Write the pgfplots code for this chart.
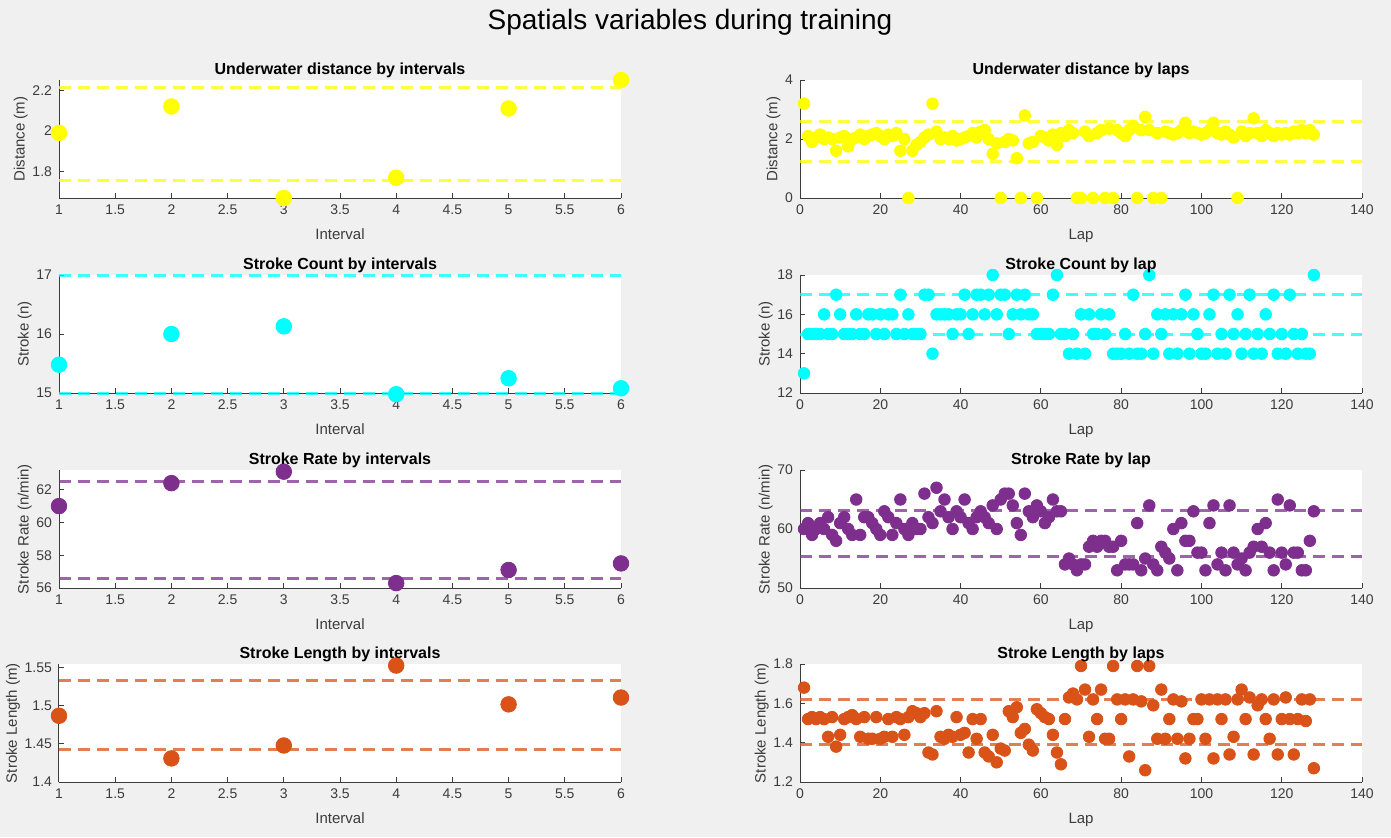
\documentclass[border=0pt]{standalone}
\usepackage{fontspec}
\setmainfont{Liberation Sans}
\usepackage{pgfplots}
\pgfplotsset{compat=1.18}
\definecolor{figbg}{RGB}{240,240,240}
\definecolor{axc}{RGB}{60,60,60}
\definecolor{myyellow}{RGB}{255,255,0}
\definecolor{mycyan}{RGB}{0,255,255}
\definecolor{mypurple}{RGB}{126,47,142}
\definecolor{myorange}{RGB}{217,83,25}
\pgfplotsset{
  base/.style={scale only axis, width=281pt, height=59pt, anchor=north west,
    axis background/.style={fill=white},
    axis x line*=bottom, axis y line*=left,
    axis line style={draw=axc, line width=0.5pt},
    every tick/.style={axc, line width=0.5pt}, major tick length=2.5pt, tick align=inside,
    tick label style={font=\fontsize{7}{8}\selectfont, text=axc},
    label style={font=\fontsize{7.5}{9}\selectfont, text=axc},
    ylabel shift=-4.5pt,
    title style={font=\bfseries\fontsize{8}{9}\selectfont, text=black, yshift=-8.5pt},
    /pgf/number format/assume math mode=true, clip=false},
  lft/.style={base, xmin=1, xmax=6, xtick={1,1.5,2,2.5,3,3.5,4,4.5,5,5.5,6}, xlabel={Interval}},
  rgt/.style={base, xmin=0, xmax=140, xtick={0,20,40,60,80,100,120,140}, xlabel={Lap}},
  dl/.style={line width=1.5pt, dash pattern=on 6pt off 3.5pt, opacity=0.75},
  ml/.style={only marks, mark=*, mark size=3.9pt, mark options={draw=#1, fill=#1}},
  mr/.style={only marks, mark=*, mark size=2.9pt, mark options={draw=#1, fill=#1}},
}
\begin{document}
\begin{tikzpicture}
\useasboundingbox (0,0) rectangle (695.5pt,-418.5pt);
\fill[figbg] (0,0) rectangle (695.5pt,-418.5pt);
\node[font=\fontsize{14}{16}\selectfont, text=black] at (345pt,-11pt) {Spatials variables during training};

% ---------- Row 1 ----------
\begin{axis}[lft, at={(29.5pt,-40pt)}, ymin=1.67, ymax=2.25, ytick={1.8,2,2.2},
  ylabel={Distance (m)}, title={Underwater distance by intervals}]
\addplot[dl, myyellow] coordinates {(1,2.215)(6,2.215)};
\addplot[dl, myyellow] coordinates {(1,1.757)(6,1.757)};
\addplot[ml=myyellow] coordinates {(1,1.99)(2,2.12)(3,1.67)(4,1.77)(5,2.11)(6,2.25)};
\end{axis}
\begin{axis}[rgt, at={(400pt,-40pt)}, ymin=0, ymax=4, ytick={0,2,4},
  ylabel={Distance (m)}, title={Underwater distance by laps}]
\addplot[dl, myyellow] coordinates {(0,2.6)(140,2.6)};
\addplot[dl, myyellow] coordinates {(0,1.25)(140,1.25)};
\addplot[mr=myyellow] coordinates {(1,3.2)(2,2.1)(3,1.9)(4,2.05)(5,2.15)(6,2.0)(7,2.05)(8,2.0)(9,1.6)(10,2.05)(11,2.1)(12,1.75)(13,2.0)(14,2.05)(15,2.15)(16,2.0)(17,2.1)(18,2.15)(19,2.2)(20,2.1)(21,2.0)(22,2.15)(23,2.1)(24,2.2)(25,1.6)(26,2.0)(27,0)(28,1.6)(29,1.8)(30,1.9)(31,2.05)(32,2.15)(33,3.2)(34,2.25)(35,2.0)(36,2.05)(37,2.0)(38,2.1)(39,1.95)(40,2.0)(41,2.05)(42,2.1)(43,2.2)(44,2.05)(45,2.25)(46,2.3)(47,2.0)(48,1.5)(49,1.85)(50,0)(51,1.9)(52,2.0)(53,1.95)(54,1.35)(55,0)(56,2.8)(57,1.85)(58,1.9)(59,0)(60,2.1)(61,2.05)(62,1.95)(63,2.15)(64,1.8)(65,2.2)(66,2.1)(67,2.3)(68,2.2)(69,0)(70,0)(71,2.25)(72,2.1)(73,0)(74,2.2)(75,2.3)(76,0)(77,2.35)(78,0)(79,2.3)(80,2.2)(81,2.1)(82,2.3)(83,2.45)(84,0)(85,2.3)(86,2.75)(87,2.3)(88,0)(89,2.2)(90,0)(91,2.25)(92,2.2)(93,2.15)(94,2.2)(95,2.3)(96,2.55)(97,2.2)(98,2.25)(99,2.2)(100,2.15)(101,2.2)(102,2.3)(103,2.55)(104,2.2)(105,2.15)(106,2.25)(107,2.15)(108,2.05)(109,0)(110,2.25)(111,2.1)(112,2.2)(113,2.7)(114,2.2)(115,2.1)(116,2.3)(117,2.2)(118,2.1)(119,2.2)(120,2.15)(121,2.2)(122,2.15)(123,2.25)(124,2.2)(125,2.3)(126,2.2)(127,2.3)(128,2.15)};
\end{axis}

% ---------- Row 2 ----------
\begin{axis}[lft, at={(29.5pt,-137.5pt)}, ymin=15, ymax=17, ytick={15,16,17},
  ylabel={Stroke (n)}, title={Stroke Count by intervals}]
\addplot[dl, mycyan] coordinates {(1,17)(6,17)};
\addplot[dl, mycyan] coordinates {(1,15)(6,15)};
\addplot[ml=mycyan] coordinates {(1,15.48)(2,16.0)(3,16.13)(4,14.98)(5,15.25)(6,15.08)};
\end{axis}
\begin{axis}[rgt, at={(400pt,-137.5pt)}, ymin=12, ymax=18, ytick={12,14,16,18},
  ylabel={Stroke (n)}, title={Stroke Count by lap}]
\addplot[dl, mycyan] coordinates {(0,17)(140,17)};
\addplot[dl, mycyan] coordinates {(0,15)(140,15)};
\addplot[mr=mycyan] coordinates {(1,13)(2,15)(3,15)(4,15)(5,15)(6,16)(7,15)(8,15)(9,17)(10,16)(11,15)(12,15)(13,15)(14,16)(15,15)(16,15)(17,16)(18,16)(19,15)(20,16)(21,15)(22,16)(23,16)(24,15)(25,17)(26,15)(27,16)(28,15)(29,15)(30,15)(31,17)(32,17)(33,14)(34,16)(35,16)(36,16)(37,16)(38,15)(39,16)(40,16)(41,17)(42,15)(43,16)(44,17)(45,17)(46,16)(47,17)(48,18)(49,16)(50,17)(51,17)(52,15)(53,16)(54,17)(55,16)(56,17)(57,16)(58,16)(59,15)(60,15)(61,15)(62,15)(63,17)(64,18)(65,15)(66,15)(67,14)(68,15)(69,14)(70,16)(71,14)(72,16)(73,15)(74,15)(75,16)(76,15)(77,16)(78,14)(79,14)(80,14)(81,15)(82,14)(83,17)(84,14)(85,14)(86,15)(87,18)(88,14)(89,16)(90,15)(91,16)(92,14)(93,16)(94,14)(95,16)(96,17)(97,14)(98,16)(99,15)(100,14)(101,14)(102,16)(103,17)(104,14)(105,15)(106,14)(107,17)(108,15)(109,16)(110,14)(111,15)(112,17)(113,14)(114,15)(115,14)(116,16)(117,15)(118,17)(119,14)(120,15)(121,14)(122,17)(123,15)(124,14)(125,15)(126,14)(127,14)(128,18)};
\end{axis}

% ---------- Row 3 ----------
\begin{axis}[lft, at={(29.5pt,-235pt)}, ymin=56, ymax=63.2, ytick={56,58,60,62},
  ylabel={Stroke Rate (n/min)}, title={Stroke Rate by intervals}]
\addplot[dl, mypurple] coordinates {(1,62.5)(6,62.5)};
\addplot[dl, mypurple] coordinates {(1,56.6)(6,56.6)};
\addplot[ml=mypurple] coordinates {(1,61.0)(2,62.4)(3,63.1)(4,56.3)(5,57.1)(6,57.5)};
\end{axis}
\begin{axis}[rgt, at={(400pt,-235pt)}, ymin=50, ymax=70, ytick={50,60,70},
  ylabel={Stroke Rate (n/min)}, title={Stroke Rate by lap}]
\addplot[dl, mypurple] coordinates {(0,63.2)(140,63.2)};
\addplot[dl, mypurple] coordinates {(0,55.3)(140,55.3)};
\addplot[mr=mypurple] coordinates {(1,60)(2,61)(3,59)(4,60)(5,61)(6,60)(7,62)(8,59)(9,58)(10,61)(11,62)(12,60)(13,59)(14,65)(15,59)(16,62)(17,62)(18,61)(19,60)(20,59)(21,63)(22,62)(23,59)(24,61)(25,65)(26,60)(27,59)(28,61)(29,60)(30,60)(31,66)(32,62)(33,61)(34,67)(35,63)(36,65)(37,62)(38,60)(39,63)(40,62)(41,65)(42,61)(43,60)(44,62)(45,63)(46,62)(47,61)(48,64)(49,60)(50,65)(51,66)(52,66)(53,64)(54,61)(55,59)(56,66)(57,63)(58,62)(59,64)(60,63)(61,61)(62,62)(63,65)(64,63)(65,63)(66,54)(67,55)(68,54)(69,53)(70,54)(71,54)(72,57)(73,58)(74,57)(75,58)(76,58)(77,57)(78,57)(79,53)(80,58)(81,54)(82,54)(83,54)(84,61)(85,53)(86,55)(87,64)(88,54)(89,53)(90,57)(91,56)(92,55)(93,60)(94,53)(95,61)(96,58)(97,58)(98,63)(99,56)(100,56)(101,53)(102,61)(103,64)(104,54)(105,56)(106,53)(107,64)(108,56)(109,54)(110,55)(111,53)(112,56)(113,57)(114,60)(115,57)(116,61)(117,56)(118,53)(119,65)(120,56)(121,54)(122,64)(123,56)(124,56)(125,53)(126,53)(127,58)(128,63)};
\end{axis}

% ---------- Row 4 ----------
\begin{axis}[lft, at={(29.5pt,-332pt)}, ymin=1.4, ymax=1.555, ytick={1.4,1.45,1.5,1.55},
  ylabel={Stroke Length (m)}, title={Stroke Length by intervals}]
\addplot[dl, myorange] coordinates {(1,1.533)(6,1.533)};
\addplot[dl, myorange] coordinates {(1,1.443)(6,1.443)};
\addplot[ml=myorange] coordinates {(1,1.487)(2,1.431)(3,1.448)(4,1.553)(5,1.502)(6,1.511)};
\end{axis}
\begin{axis}[rgt, at={(400pt,-332pt)}, ymin=1.2, ymax=1.8, ytick={1.2,1.4,1.6,1.8},
  ylabel={Stroke Length (m)}, title={Stroke Length by laps}]
\addplot[dl, myorange] coordinates {(0,1.62)(140,1.62)};
\addplot[dl, myorange] coordinates {(0,1.39)(140,1.39)};
\addplot[mr=myorange] coordinates {(1,1.68)(2,1.52)(3,1.53)(4,1.52)(5,1.53)(6,1.52)(7,1.43)(8,1.53)(9,1.38)(10,1.44)(11,1.52)(12,1.53)(13,1.54)(14,1.52)(15,1.43)(16,1.53)(17,1.42)(18,1.42)(19,1.53)(20,1.42)(21,1.43)(22,1.52)(23,1.43)(24,1.53)(25,1.52)(26,1.44)(27,1.53)(28,1.56)(29,1.55)(30,1.53)(31,1.55)(32,1.35)(33,1.34)(34,1.56)(35,1.43)(36,1.42)(37,1.44)(38,1.43)(39,1.53)(40,1.44)(41,1.45)(42,1.35)(43,1.52)(44,1.42)(45,1.52)(46,1.35)(47,1.33)(48,1.44)(49,1.30)(50,1.37)(51,1.36)(52,1.56)(53,1.53)(54,1.58)(55,1.45)(56,1.47)(57,1.39)(58,1.36)(59,1.57)(60,1.55)(61,1.53)(62,1.52)(63,1.44)(64,1.35)(65,1.29)(66,1.52)(67,1.63)(68,1.65)(69,1.62)(70,1.79)(71,1.67)(72,1.43)(73,1.62)(74,1.52)(75,1.67)(76,1.42)(77,1.42)(78,1.79)(79,1.62)(80,1.52)(81,1.62)(82,1.33)(83,1.62)(84,1.79)(85,1.61)(86,1.26)(87,1.79)(88,1.59)(89,1.42)(90,1.67)(91,1.42)(92,1.52)(93,1.62)(94,1.42)(95,1.61)(96,1.32)(97,1.42)(98,1.52)(99,1.52)(100,1.62)(101,1.42)(102,1.62)(103,1.32)(104,1.62)(105,1.52)(106,1.62)(107,1.34)(108,1.43)(109,1.62)(110,1.67)(111,1.52)(112,1.63)(113,1.34)(114,1.59)(115,1.62)(116,1.52)(117,1.42)(118,1.62)(119,1.34)(120,1.52)(121,1.63)(122,1.52)(123,1.34)(124,1.52)(125,1.62)(126,1.51)(127,1.62)(128,1.27)};
\end{axis}
\end{tikzpicture}
\end{document}
